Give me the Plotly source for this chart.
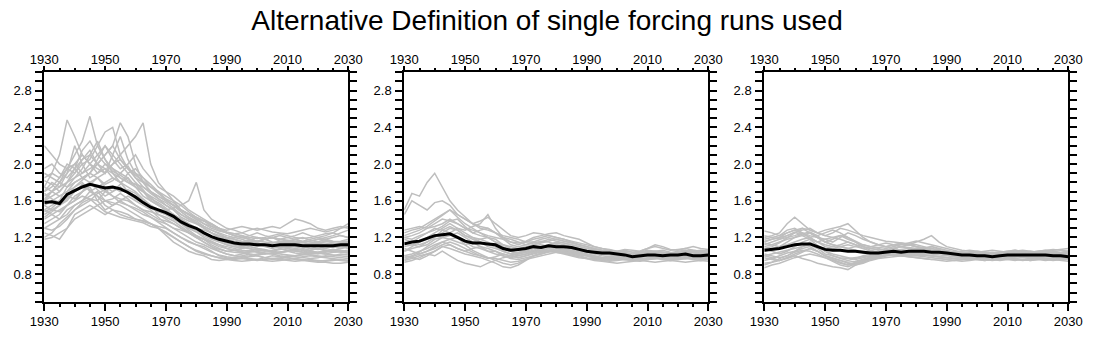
import plotly.graph_objects as go

YEARS = [1930 + 2.5 * i for i in range(41)]
X_TICKS = [1930, 1950, 1970, 1990, 2010, 2030]
Y_TICKS = [0.8, 1.2, 1.6, 2.0, 2.4, 2.8]
TITLE = "Alternative Definition of single forcing runs used"

# ---- Panel 1 ----
P1_MEAN = [1.58,1.59,1.57,1.67,1.71,1.75,1.78,1.76,1.74,1.75,1.73,1.69,1.64,1.58,1.53,1.50,1.47,1.43,1.37,1.33,1.30,1.25,1.21,1.18,1.16,1.14,1.13,1.13,1.12,1.12,1.11,1.12,1.12,1.12,1.11,1.11,1.11,1.11,1.11,1.12,1.12]
P1_RUNS = [
 [1.75,1.9,2.1,2.48,2.3,2.1,2.0,1.9,1.95,1.85,1.8,1.75,1.7,1.62,1.55,1.5,1.48,1.42,1.35,1.3,1.28,1.22,1.18,1.15,1.12,1.1,1.08,1.1,1.12,1.1,1.08,1.1,1.12,1.1,1.08,1.06,1.08,1.1,1.12,1.1,1.08],
 [1.6,1.7,1.8,1.95,2.1,2.25,2.52,2.2,2.05,1.95,1.9,1.85,1.75,1.7,1.6,1.55,1.5,1.45,1.4,1.35,1.3,1.28,1.25,1.2,1.18,1.2,1.22,1.18,1.15,1.18,1.2,1.16,1.14,1.18,1.2,1.17,1.15,1.18,1.2,1.22,1.2],
 [1.5,1.55,1.6,1.75,1.8,1.85,1.9,2.0,2.1,2.2,2.45,2.3,2.0,1.8,1.7,1.62,1.55,1.5,1.45,1.4,1.35,1.3,1.25,1.22,1.2,1.18,1.15,1.17,1.2,1.18,1.15,1.14,1.16,1.18,1.15,1.12,1.14,1.16,1.14,1.12,1.14],
 [1.45,1.5,1.55,1.6,1.7,1.75,1.8,1.85,1.9,2.0,2.1,2.2,2.3,2.45,2.0,1.8,1.7,1.6,1.5,1.45,1.4,1.35,1.3,1.27,1.25,1.22,1.2,1.22,1.25,1.22,1.2,1.18,1.2,1.22,1.25,1.22,1.2,1.22,1.25,1.3,1.35],
 [2.2,2.1,2.0,1.95,1.9,2.05,2.1,2.0,1.95,1.9,1.85,1.8,1.78,1.75,1.7,1.65,1.6,1.55,1.5,1.45,1.4,1.35,1.32,1.3,1.28,1.3,1.32,1.3,1.28,1.3,1.32,1.3,1.35,1.4,1.38,1.35,1.3,1.28,1.3,1.32,1.3],
 [1.18,1.2,1.25,1.3,1.4,1.45,1.5,1.55,1.6,1.58,1.55,1.5,1.45,1.4,1.35,1.3,1.25,1.2,1.15,1.1,1.05,1.02,1.0,0.98,0.97,0.96,0.97,0.99,1.0,0.98,0.97,0.98,1.0,0.99,0.98,0.97,0.98,1.0,0.99,0.98,0.97],
 [1.25,1.22,1.18,1.3,1.45,1.5,1.55,1.5,1.45,1.5,1.48,1.45,1.4,1.38,1.35,1.3,1.22,1.15,1.1,1.05,1.02,1.0,0.96,0.95,0.96,0.98,1.0,1.02,1.0,0.98,0.96,0.97,0.98,0.96,0.95,0.94,0.93,0.93,0.92,0.92,0.93],
 [1.7,1.8,1.75,1.9,2.2,2.0,1.85,1.9,2.0,1.95,1.85,1.8,1.75,1.7,1.65,1.6,1.55,1.5,1.42,1.38,1.35,1.3,1.25,1.2,1.15,1.12,1.1,1.08,1.06,1.05,1.06,1.08,1.06,1.05,1.04,1.06,1.08,1.06,1.04,1.05,1.06],
 [1.55,1.6,1.65,1.7,1.75,1.8,1.7,1.75,1.8,1.85,1.8,1.7,1.65,1.6,1.55,1.5,1.5,1.52,1.55,1.6,1.8,1.5,1.4,1.35,1.3,1.28,1.25,1.22,1.2,1.18,1.2,1.22,1.2,1.18,1.16,1.18,1.2,1.18,1.16,1.15,1.16],
 [1.4,1.45,1.5,1.55,1.6,1.65,1.62,1.6,1.7,1.75,1.7,1.72,1.68,1.6,1.55,1.45,1.4,1.35,1.3,1.25,1.2,1.15,1.1,1.05,1.02,1.0,1.02,1.04,1.05,1.03,1.02,1.04,1.05,1.03,1.02,1.04,1.03,1.02,1.04,1.05,1.04],
 [1.65,1.7,1.75,1.8,1.9,2.0,2.05,2.2,2.35,2.4,2.1,1.95,1.9,1.85,1.75,1.7,1.6,1.55,1.5,1.45,1.4,1.38,1.35,1.3,1.25,1.22,1.2,1.18,1.16,1.15,1.14,1.15,1.16,1.14,1.12,1.13,1.14,1.12,1.1,1.12,1.14],
 [1.3,1.35,1.4,1.5,1.55,1.6,1.65,1.7,1.6,1.55,1.6,1.65,1.6,1.55,1.5,1.42,1.35,1.3,1.28,1.25,1.2,1.18,1.12,1.08,1.05,1.06,1.08,1.1,1.08,1.06,1.05,1.07,1.08,1.07,1.06,1.05,1.04,1.05,1.06,1.08,1.1],
 [1.85,1.9,1.85,1.95,2.0,2.1,2.0,1.95,1.9,2.0,2.05,1.95,1.85,1.8,1.75,1.7,1.65,1.6,1.55,1.48,1.42,1.38,1.32,1.28,1.25,1.24,1.25,1.28,1.3,1.28,1.26,1.25,1.24,1.26,1.28,1.3,1.28,1.26,1.28,1.3,1.32],
 [1.5,1.45,1.4,1.45,1.55,1.6,1.7,1.65,1.55,1.5,1.45,1.42,1.4,1.38,1.35,1.32,1.3,1.25,1.2,1.15,1.12,1.1,1.05,1.0,0.98,0.97,0.98,0.97,0.96,0.98,1.0,0.99,0.98,0.97,0.99,1.0,0.99,0.98,0.97,0.96,0.95],
 [1.6,1.65,1.7,1.8,1.85,1.9,2.0,2.1,2.2,2.05,1.95,2.0,2.1,1.95,1.85,1.75,1.7,1.65,1.58,1.5,1.45,1.4,1.35,1.3,1.25,1.22,1.2,1.18,1.16,1.18,1.2,1.18,1.17,1.16,1.15,1.16,1.18,1.2,1.22,1.25,1.28],
 [1.75,1.7,1.65,1.7,1.8,1.85,1.8,1.75,1.7,1.65,1.62,1.6,1.55,1.5,1.45,1.4,1.38,1.35,1.3,1.25,1.22,1.18,1.15,1.12,1.1,1.08,1.06,1.05,1.04,1.02,1.03,1.04,1.05,1.06,1.04,1.03,1.02,1.04,1.05,1.04,1.03],
 [1.95,2.0,1.9,1.85,1.95,2.05,2.15,2.0,1.9,2.1,2.3,2.05,1.9,1.8,1.7,1.65,1.6,1.55,1.48,1.42,1.38,1.32,1.28,1.25,1.22,1.2,1.18,1.15,1.14,1.12,1.1,1.12,1.14,1.12,1.1,1.08,1.1,1.12,1.1,1.08,1.1],
 [1.35,1.4,1.45,1.55,1.65,1.7,1.75,1.6,1.5,1.55,1.6,1.55,1.5,1.45,1.42,1.38,1.35,1.3,1.25,1.2,1.15,1.12,1.08,1.05,1.02,1.0,0.99,1.0,1.02,1.03,1.02,1.0,0.99,1.0,1.02,1.01,1.0,0.99,1.0,1.02,1.01],
 [1.62,1.7,1.8,1.75,1.85,1.95,2.1,2.25,2.05,1.9,1.8,1.85,1.75,1.65,1.6,1.55,1.5,1.45,1.38,1.32,1.28,1.24,1.2,1.16,1.12,1.1,1.09,1.08,1.1,1.12,1.11,1.1,1.09,1.1,1.12,1.14,1.12,1.1,1.09,1.1,1.12],
 [1.48,1.52,1.6,1.65,1.62,1.7,1.78,1.85,1.75,1.7,1.78,1.9,1.8,1.72,1.62,1.58,1.52,1.45,1.4,1.35,1.3,1.25,1.2,1.17,1.14,1.12,1.1,1.12,1.14,1.12,1.1,1.09,1.1,1.11,1.1,1.08,1.07,1.08,1.1,1.11,1.1],
 [1.82,1.78,1.7,1.8,1.95,2.15,2.25,2.1,2.0,1.92,1.88,1.82,1.78,1.7,1.64,1.56,1.5,1.44,1.36,1.3,1.26,1.2,1.16,1.12,1.08,1.06,1.05,1.06,1.08,1.07,1.05,1.04,1.06,1.08,1.07,1.05,1.04,1.06,1.07,1.06,1.05],
 [1.3,1.28,1.32,1.4,1.5,1.55,1.6,1.68,1.72,1.65,1.58,1.55,1.52,1.48,1.42,1.36,1.3,1.25,1.2,1.16,1.12,1.08,1.04,1.01,0.99,0.98,0.97,0.96,0.95,0.96,0.97,0.96,0.95,0.94,0.95,0.96,0.95,0.94,0.95,0.96,0.95],
 [1.7,1.75,1.85,2.0,1.95,1.85,1.9,2.05,2.2,2.1,2.0,1.9,1.95,1.85,1.78,1.7,1.62,1.58,1.5,1.46,1.42,1.38,1.34,1.3,1.26,1.24,1.22,1.2,1.19,1.2,1.22,1.24,1.22,1.2,1.19,1.2,1.22,1.24,1.25,1.22,1.2],
 [1.55,1.5,1.48,1.55,1.6,1.7,1.8,1.72,1.65,1.7,1.75,1.68,1.62,1.58,1.52,1.48,1.45,1.4,1.35,1.28,1.22,1.18,1.14,1.1,1.08,1.06,1.04,1.02,1.01,1.02,1.03,1.02,1.01,1.0,1.01,1.02,1.03,1.02,1.01,1.0,0.99],
 [1.9,1.85,1.8,1.9,2.0,1.9,1.95,2.0,2.1,2.2,2.05,1.95,1.88,1.82,1.75,1.68,1.62,1.55,1.48,1.42,1.36,1.32,1.28,1.24,1.2,1.18,1.16,1.15,1.16,1.18,1.2,1.18,1.16,1.15,1.14,1.16,1.18,1.17,1.15,1.16,1.18],
 [1.42,1.48,1.55,1.62,1.7,1.78,1.72,1.65,1.6,1.62,1.68,1.62,1.55,1.5,1.48,1.45,1.42,1.38,1.32,1.26,1.2,1.15,1.1,1.07,1.05,1.04,1.03,1.05,1.07,1.06,1.04,1.03,1.05,1.06,1.04,1.02,1.03,1.05,1.06,1.05,1.03],
 [1.68,1.62,1.58,1.65,1.75,1.82,1.9,1.85,1.78,1.82,1.9,1.98,1.85,1.75,1.68,1.62,1.58,1.52,1.45,1.4,1.36,1.3,1.25,1.22,1.18,1.16,1.15,1.14,1.13,1.12,1.14,1.16,1.15,1.13,1.12,1.14,1.15,1.14,1.13,1.14,1.15],
 [1.2,1.25,1.35,1.42,1.5,1.58,1.62,1.55,1.48,1.45,1.42,1.4,1.38,1.36,1.32,1.3,1.26,1.2,1.15,1.1,1.06,1.03,1.0,0.98,0.96,0.95,0.94,0.95,0.96,0.95,0.94,0.95,0.96,0.97,0.96,0.95,0.94,0.95,0.96,0.95,0.94],
]

# ---- Panel 2 ----
P2_MEAN = [1.13,1.15,1.16,1.19,1.22,1.23,1.24,1.20,1.16,1.14,1.14,1.13,1.12,1.08,1.06,1.07,1.08,1.10,1.09,1.11,1.10,1.10,1.09,1.07,1.05,1.04,1.03,1.03,1.02,1.01,0.99,1.00,1.01,1.01,1.00,1.01,1.01,1.02,1.00,1.00,1.01]
P2_RUNS = [
 [1.5,1.68,1.65,1.8,1.9,1.75,1.6,1.5,1.42,1.35,1.32,1.3,1.25,1.22,1.2,1.18,1.15,1.15,1.12,1.1,1.08,1.06,1.05,1.04,1.02,1.0,0.98,0.97,0.98,0.99,1.0,1.02,1.03,1.02,1.0,1.01,1.02,1.03,1.04,1.03,1.02],
 [1.45,1.6,1.55,1.5,1.58,1.6,1.55,1.45,1.4,1.35,1.3,1.28,1.25,1.2,1.18,1.15,1.12,1.14,1.16,1.15,1.12,1.1,1.08,1.06,1.05,1.04,1.03,1.02,1.01,1.0,0.99,1.0,1.02,1.01,1.0,0.99,1.0,1.01,1.0,0.99,1.0],
 [1.25,1.28,1.3,1.35,1.4,1.45,1.5,1.45,1.4,1.35,1.38,1.42,1.35,1.28,1.22,1.2,1.22,1.25,1.24,1.22,1.2,1.18,1.16,1.14,1.12,1.1,1.08,1.07,1.05,1.06,1.04,1.05,1.08,1.1,1.08,1.06,1.07,1.08,1.06,1.05,1.06],
 [0.95,0.97,1.0,1.02,1.0,1.05,1.0,0.95,0.92,0.9,0.88,0.92,0.95,0.98,1.0,1.02,1.04,1.05,1.06,1.05,1.04,1.02,1.0,0.98,0.97,0.96,0.95,0.94,0.95,0.96,0.95,0.94,0.96,0.97,0.96,0.95,0.96,0.97,0.96,0.95,0.96],
 [1.05,1.08,1.1,1.15,1.2,1.25,1.3,1.28,1.22,1.2,1.18,1.15,1.1,1.05,1.02,1.0,1.02,1.05,1.08,1.1,1.12,1.1,1.08,1.06,1.05,1.03,1.02,1.01,1.0,0.99,0.98,0.99,1.0,1.01,1.02,1.0,0.99,1.0,1.01,1.02,1.03],
 [1.0,0.98,0.96,1.0,1.05,1.1,1.08,1.05,1.02,1.0,0.98,0.95,0.92,0.88,0.87,0.9,0.95,1.0,1.02,1.05,1.04,1.03,1.02,1.0,0.98,0.97,0.96,0.98,0.97,0.96,0.95,0.96,0.97,0.98,0.97,0.96,0.97,0.98,0.97,0.96,0.97],
 [1.2,1.18,1.22,1.25,1.3,1.28,1.25,1.3,1.28,1.32,1.35,1.45,1.3,1.2,1.15,1.12,1.15,1.18,1.2,1.22,1.2,1.18,1.15,1.12,1.1,1.08,1.06,1.05,1.04,1.03,1.02,1.04,1.06,1.05,1.04,1.03,1.04,1.05,1.06,1.05,1.04],
 [1.1,1.12,1.15,1.2,1.25,1.3,1.35,1.3,1.25,1.2,1.15,1.12,1.1,1.08,1.05,1.03,1.05,1.08,1.1,1.12,1.14,1.12,1.1,1.08,1.06,1.04,1.02,1.03,1.04,1.03,1.01,1.02,1.04,1.05,1.04,1.03,1.05,1.06,1.04,1.02,1.03],
 [0.93,0.95,0.98,1.02,1.05,1.1,1.12,1.08,1.05,1.02,1.0,0.98,0.97,0.95,0.93,0.94,0.96,0.98,1.0,1.02,1.04,1.03,1.01,0.99,0.97,0.95,0.94,0.93,0.92,0.93,0.94,0.95,0.94,0.93,0.94,0.95,0.94,0.93,0.94,0.95,0.94],
 [1.28,1.3,1.32,1.3,1.35,1.4,1.38,1.35,1.3,1.28,1.25,1.22,1.2,1.18,1.15,1.14,1.16,1.2,1.22,1.24,1.25,1.22,1.2,1.18,1.14,1.1,1.08,1.06,1.05,1.07,1.06,1.05,1.08,1.12,1.1,1.07,1.06,1.08,1.1,1.08,1.07],
 [1.15,1.12,1.1,1.12,1.18,1.2,1.22,1.25,1.2,1.15,1.1,1.05,1.02,1.0,0.98,1.0,1.02,1.04,1.06,1.08,1.1,1.08,1.06,1.04,1.02,1.0,0.98,0.99,1.0,0.98,0.97,0.98,1.0,0.99,0.98,0.99,1.0,0.99,0.98,0.99,1.0],
 [1.0,1.02,1.05,1.08,1.12,1.15,1.18,1.2,1.15,1.1,1.08,1.05,1.05,1.02,1.0,0.98,1.0,1.03,1.05,1.08,1.06,1.05,1.04,1.02,1.0,0.99,0.98,0.97,0.98,0.99,0.98,0.97,0.98,0.99,1.0,0.98,0.97,0.98,0.99,0.98,0.97],
 [1.2,1.22,1.25,1.3,1.32,1.35,1.4,1.35,1.3,1.25,1.22,1.2,1.18,1.12,1.1,1.08,1.1,1.12,1.15,1.18,1.16,1.14,1.12,1.1,1.08,1.06,1.05,1.04,1.03,1.02,1.01,1.03,1.05,1.04,1.03,1.02,1.03,1.04,1.05,1.04,1.03],
 [1.08,1.05,1.02,1.05,1.1,1.15,1.12,1.08,1.05,1.08,1.1,1.08,1.05,1.0,0.97,0.96,0.98,1.0,1.02,1.04,1.06,1.05,1.03,1.01,1.0,0.98,0.97,0.96,0.97,0.98,0.97,0.96,0.97,0.98,0.97,0.96,0.97,0.98,0.97,0.98,0.99],
 [1.12,1.15,1.2,1.25,1.28,1.32,1.38,1.4,1.32,1.25,1.28,1.3,1.25,1.18,1.12,1.1,1.12,1.15,1.18,1.2,1.18,1.16,1.14,1.12,1.1,1.08,1.06,1.05,1.04,1.05,1.04,1.03,1.04,1.05,1.06,1.04,1.03,1.04,1.05,1.06,1.05],
 [0.98,1.0,1.04,1.1,1.15,1.2,1.25,1.2,1.12,1.06,1.02,0.98,0.95,0.92,0.9,0.92,0.96,1.0,1.03,1.06,1.08,1.07,1.05,1.03,1.01,0.99,0.98,0.97,0.96,0.97,0.98,0.97,0.96,0.97,0.98,0.99,0.98,0.97,0.98,0.99,0.98],
 [1.22,1.25,1.28,1.32,1.38,1.45,1.5,1.42,1.35,1.3,1.25,1.2,1.15,1.12,1.08,1.06,1.08,1.12,1.14,1.16,1.18,1.16,1.14,1.12,1.1,1.07,1.05,1.04,1.03,1.04,1.02,1.01,1.03,1.04,1.03,1.02,1.03,1.04,1.03,1.02,1.03],
 [1.05,1.1,1.15,1.18,1.22,1.2,1.18,1.15,1.12,1.15,1.18,1.2,1.15,1.1,1.05,1.02,1.04,1.06,1.1,1.12,1.15,1.14,1.12,1.1,1.08,1.06,1.04,1.02,1.01,1.0,0.99,1.01,1.02,1.01,1.0,1.01,1.02,1.01,1.0,1.01,1.02],
 [1.18,1.15,1.12,1.15,1.2,1.28,1.32,1.28,1.22,1.18,1.15,1.1,1.08,1.05,1.02,1.04,1.06,1.08,1.1,1.09,1.08,1.07,1.06,1.05,1.04,1.02,1.0,0.99,0.98,0.99,1.0,1.01,1.0,0.99,1.0,1.01,1.0,0.99,1.0,1.01,1.0],
 [0.96,0.99,1.02,1.05,1.08,1.12,1.15,1.12,1.08,1.04,1.0,0.97,0.99,1.02,1.0,0.98,1.0,1.02,1.04,1.06,1.05,1.04,1.03,1.02,1.0,0.98,0.96,0.95,0.96,0.97,0.96,0.95,0.96,0.97,0.98,0.97,0.96,0.97,0.98,0.97,0.96],
]

# ---- Panel 3 ----
P3_MEAN = [1.06,1.07,1.08,1.10,1.12,1.13,1.13,1.10,1.07,1.06,1.06,1.05,1.05,1.04,1.03,1.03,1.04,1.05,1.04,1.05,1.05,1.05,1.04,1.04,1.03,1.02,1.01,1.01,1.00,1.00,0.99,1.00,1.01,1.01,1.01,1.01,1.01,1.01,1.00,1.00,0.99]
P3_RUNS = [
 [1.2,1.22,1.25,1.35,1.42,1.35,1.28,1.25,1.22,1.2,1.18,1.15,1.12,1.1,1.08,1.07,1.06,1.08,1.1,1.08,1.06,1.05,1.04,1.03,1.02,1.03,1.04,1.03,1.02,1.01,1.0,1.01,1.03,1.02,1.01,1.0,1.01,1.02,1.01,1.0,1.01],
 [0.87,0.9,0.92,0.95,0.98,1.0,1.02,1.0,0.98,0.95,0.92,0.9,0.92,0.95,0.97,0.98,1.0,1.01,1.0,0.99,0.98,0.97,0.96,0.97,0.96,0.95,0.96,0.97,0.96,0.95,0.96,0.97,0.96,0.95,0.96,0.97,0.96,0.95,0.96,0.97,0.96],
 [1.15,1.18,1.2,1.22,1.25,1.28,1.3,1.25,1.28,1.3,1.32,1.35,1.28,1.2,1.15,1.12,1.1,1.12,1.14,1.12,1.1,1.08,1.06,1.05,1.04,1.03,1.02,1.03,1.04,1.03,1.02,1.03,1.04,1.05,1.04,1.03,1.04,1.05,1.04,1.03,1.05],
 [1.0,0.98,0.95,0.98,1.0,0.97,0.95,0.92,0.9,0.88,0.87,0.85,0.9,0.93,0.96,0.98,1.0,1.02,1.0,0.99,0.98,0.97,0.96,0.95,0.94,0.95,0.96,0.97,0.96,0.95,0.96,0.97,0.98,0.97,0.96,0.95,0.96,0.97,0.98,0.97,0.96],
 [1.05,1.08,1.1,1.12,1.15,1.18,1.2,1.15,1.1,1.08,1.1,1.12,1.1,1.08,1.1,1.12,1.14,1.12,1.1,1.12,1.15,1.18,1.22,1.15,1.1,1.08,1.06,1.05,1.04,1.05,1.06,1.05,1.04,1.05,1.06,1.05,1.04,1.05,1.06,1.07,1.08],
 [1.27,1.25,1.22,1.25,1.28,1.3,1.28,1.25,1.22,1.25,1.3,1.28,1.25,1.22,1.2,1.18,1.16,1.15,1.14,1.13,1.12,1.1,1.08,1.06,1.05,1.04,1.05,1.06,1.05,1.04,1.03,1.04,1.05,1.06,1.05,1.04,1.05,1.06,1.07,1.06,1.05],
 [0.92,0.93,0.95,0.98,1.02,1.05,1.08,1.05,1.0,0.97,0.95,0.92,0.9,0.92,0.95,0.97,0.98,0.99,1.0,1.01,1.0,0.99,0.98,0.97,0.96,0.95,0.94,0.95,0.96,0.97,0.96,0.95,0.96,0.97,0.96,0.95,0.96,0.97,0.96,0.95,0.94],
 [1.1,1.12,1.15,1.18,1.2,1.22,1.25,1.2,1.15,1.12,1.1,1.08,1.06,1.05,1.04,1.03,1.05,1.08,1.06,1.05,1.07,1.08,1.1,1.08,1.06,1.04,1.02,1.01,1.0,1.01,1.0,0.99,1.0,1.01,1.02,1.01,1.0,1.01,1.02,1.01,1.0],
 [1.0,1.02,1.04,1.06,1.08,1.1,1.12,1.08,1.02,1.0,0.98,0.97,0.98,0.99,1.0,1.01,1.02,1.03,1.02,1.01,1.02,1.03,1.02,1.01,1.0,0.99,0.98,0.97,0.98,0.99,0.98,0.97,0.98,0.99,1.0,0.99,0.98,0.97,0.98,0.99,0.98],
 [1.18,1.2,1.22,1.28,1.3,1.25,1.22,1.2,1.18,1.15,1.2,1.25,1.22,1.18,1.15,1.12,1.1,1.08,1.1,1.12,1.1,1.08,1.06,1.04,1.02,1.01,1.0,1.02,1.03,1.02,1.01,1.02,1.03,1.04,1.03,1.02,1.01,1.02,1.03,1.02,1.01],
 [1.08,1.05,1.02,1.05,1.1,1.15,1.18,1.12,1.05,1.02,1.0,0.98,0.96,0.98,1.0,1.02,1.04,1.06,1.05,1.04,1.03,1.04,1.05,1.04,1.02,1.0,0.99,0.98,0.97,0.98,0.99,1.0,1.01,1.0,0.99,0.98,0.99,1.0,0.99,0.98,0.97],
 [0.95,0.97,1.0,1.03,1.05,1.08,1.1,1.05,1.0,0.98,0.95,0.93,0.94,0.96,0.98,1.0,1.02,1.04,1.03,1.02,1.04,1.06,1.05,1.03,1.01,0.99,0.98,0.99,1.0,0.99,0.98,0.99,1.0,1.01,1.0,0.99,1.0,1.01,1.0,0.99,1.0],
 [1.12,1.15,1.18,1.2,1.22,1.25,1.2,1.15,1.18,1.2,1.22,1.18,1.15,1.1,1.08,1.06,1.08,1.1,1.12,1.14,1.16,1.14,1.12,1.1,1.08,1.06,1.04,1.03,1.02,1.03,1.04,1.03,1.02,1.03,1.04,1.05,1.04,1.03,1.02,1.03,1.04],
 [1.02,1.0,0.98,1.0,1.05,1.1,1.15,1.1,1.05,1.0,0.97,0.95,0.97,1.0,1.02,1.03,1.02,1.01,1.02,1.03,1.02,1.01,1.0,0.99,0.98,0.97,0.96,0.97,0.98,0.99,0.98,0.97,0.98,0.99,1.0,0.99,0.98,0.99,1.0,0.99,0.98],
 [1.14,1.12,1.1,1.15,1.2,1.24,1.26,1.22,1.15,1.12,1.1,1.08,1.1,1.12,1.1,1.08,1.06,1.08,1.1,1.09,1.08,1.07,1.06,1.05,1.04,1.03,1.02,1.01,1.02,1.03,1.02,1.01,1.02,1.03,1.04,1.03,1.02,1.03,1.04,1.03,1.02],
 [0.9,0.93,0.97,1.0,1.04,1.06,1.05,1.02,0.98,0.94,0.9,0.88,0.91,0.94,0.97,0.99,1.01,1.02,1.01,1.0,1.0,1.01,1.0,0.99,0.98,0.97,0.96,0.96,0.97,0.96,0.95,0.96,0.97,0.96,0.95,0.96,0.97,0.96,0.95,0.96,0.97],
 [1.08,1.1,1.14,1.2,1.25,1.3,1.25,1.2,1.15,1.18,1.22,1.2,1.15,1.1,1.06,1.04,1.06,1.08,1.06,1.05,1.06,1.08,1.1,1.07,1.05,1.03,1.02,1.01,1.0,1.01,1.02,1.01,1.0,1.01,1.02,1.03,1.02,1.01,1.02,1.03,1.02],
 [1.22,1.2,1.18,1.22,1.26,1.22,1.18,1.15,1.12,1.1,1.12,1.15,1.12,1.08,1.05,1.04,1.05,1.06,1.07,1.08,1.07,1.06,1.05,1.04,1.03,1.02,1.01,1.0,0.99,1.0,1.01,1.0,0.99,1.0,1.01,1.02,1.01,1.0,1.01,1.02,1.03],
 [0.98,0.96,0.95,0.97,1.0,1.04,1.08,1.05,1.0,0.96,0.93,0.9,0.93,0.96,0.99,1.0,1.02,1.03,1.04,1.03,1.02,1.01,1.0,0.99,0.98,0.97,0.98,0.99,0.98,0.97,0.98,0.99,1.0,0.99,0.98,0.97,0.98,0.99,1.0,0.99,0.98],
 [1.16,1.18,1.2,1.25,1.28,1.24,1.2,1.22,1.25,1.28,1.25,1.2,1.16,1.12,1.1,1.09,1.1,1.12,1.13,1.12,1.1,1.09,1.08,1.06,1.05,1.04,1.03,1.04,1.05,1.04,1.03,1.04,1.05,1.06,1.05,1.04,1.05,1.06,1.05,1.04,1.05],
]

PANELS = [(P1_MEAN, P1_RUNS), (P2_MEAN, P2_RUNS), (P3_MEAN, P3_RUNS)]
for m, runs in PANELS:
    assert len(m) == len(YEARS), len(m)
    for r in runs:
        assert len(r) == len(YEARS), len(r)

W, H = 1094, 340
X_DOMAINS = [(44.3 / W, 348.3 / W), (404.3 / W, 708.3 / W), (764.3 / W, 1068.3 / W)]
Y_DOMAIN = (38.3 / H, 267.7 / H)
GRAY = "#bebebe"
FONT = "Liberation Sans, Arial, Helvetica, sans-serif"
TICKFONT = dict(family=FONT, size=13, color="black")

fig = go.Figure()
layout = {}
for i, (mean, runs) in enumerate(PANELS):
    n = i + 1
    xa = "x" if n == 1 else f"x{n}"
    ya = "y" if n == 1 else f"y{n}"
    for r in runs:
        fig.add_trace(go.Scatter(x=YEARS, y=r, mode="lines", xaxis=xa, yaxis=ya,
                                 line=dict(color=GRAY, width=1.5), showlegend=False,
                                 hoverinfo="skip"))
    fig.add_trace(go.Scatter(x=YEARS, y=mean, mode="lines", xaxis=xa, yaxis=ya,
                             line=dict(color="black", width=3), showlegend=False))
    tn = n + 3
    fig.add_trace(go.Scatter(x=[YEARS[0]], y=[mean[0]], mode="lines", xaxis=f"x{tn}",
                             yaxis=ya, line=dict(color="rgba(0,0,0,0)"), showlegend=False,
                             hoverinfo="skip"))
    minor_x = dict(tickvals=[1930 + 5 * k for k in range(21)], ticks="outside",
                   ticklen=3, tickwidth=1.5, tickcolor="black")
    common_x = dict(range=[1930, 2030], tickvals=X_TICKS, ticktext=[str(v) for v in X_TICKS],
                    ticks="outside", tickwidth=2, tickcolor="black", automargin=False,
                    showgrid=False, zeroline=False, tickfont=TICKFONT, minor=minor_x)
    layout[f"xaxis{n if n > 1 else ''}"] = dict(domain=X_DOMAINS[i], anchor=ya,
                                                 showline=True, linecolor="black", linewidth=2,
                                                 mirror=True, ticklen=7, ticklabelstandoff=0,
                                                 **common_x)
    layout[f"xaxis{tn}"] = dict(domain=X_DOMAINS[i], anchor=ya, overlaying=xa, side="top",
                                showline=False, ticklen=5, ticklabelstandoff=-3, **common_x)
    layout[f"yaxis{n if n > 1 else ''}"] = dict(
        domain=Y_DOMAIN, anchor=xa, range=[0.5, 3.0], automargin=False,
        tickvals=Y_TICKS, ticktext=[f"{v:.1f}" for v in Y_TICKS],
        ticks="outside", ticklen=7, tickwidth=2, tickcolor="black", ticklabelstandoff=1,
        minor=dict(tickvals=[round(0.5 + 0.1 * k, 2) for k in range(26)], ticks="outside",
                   ticklen=3, tickwidth=1.5, tickcolor="black"),
        showline=True, linecolor="black", linewidth=2, mirror="allticks",
        showgrid=False, zeroline=False, tickfont=TICKFONT)

fig.update_layout(
    template="none",
    width=W, height=H, margin=dict(l=0, r=0, t=0, b=0, autoexpand=False),
    paper_bgcolor="white", plot_bgcolor="white",
    title=dict(text=TITLE, x=0.5, xanchor="center", y=1 - 20 / H, yanchor="middle",
               font=dict(family=FONT, size=28, color="black")),
    **layout,
)
fig.write_html("out.html")
